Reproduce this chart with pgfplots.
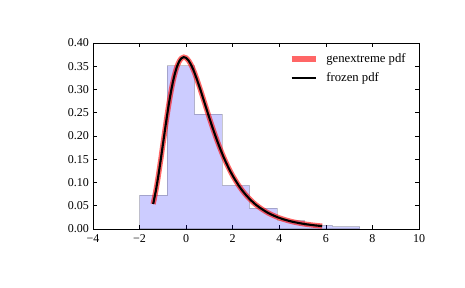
\documentclass[border=0pt]{standalone}
\usepackage{fontspec}
\setmainfont{Liberation Serif}
\usepackage{pgfplots}
\pgfplotsset{compat=1.18}
\begin{document}
\begin{tikzpicture}
\fontsize{12}{14}\selectfont
\path[use as bounding box] (-93pt,-59pt) rectangle (372pt,229pt);
\begin{axis}[
  at={(0,0)}, anchor=south west,
  scale only axis, width=326pt, height=186pt,
  xmin=-4, xmax=10, ymin=0, ymax=0.40,
  xtick={-4,-2,0,2,4,6,8,10},
  xticklabels={−4,−2,0,2,4,6,8,10},
  ytick={0,0.05,0.10,0.15,0.20,0.25,0.30,0.35,0.40},
  yticklabels={0.00,0.05,0.10,0.15,0.20,0.25,0.30,0.35,0.40},
  tick align=inside, major tick length=4pt,
  axis line style={line width=0.9pt},
  tick style={line width=0.7pt, black},
  ticklabel style={font=\fontsize{12}{14}\selectfont},
  xticklabel style={yshift=-1pt},
  legend style={draw=none, fill=none, at={(0.975,0.965)}, anchor=north east,
    font=\fontsize{12.7}{14}\selectfont, row sep=4pt},
  legend cell align=left,
  legend image code/.code={\draw[#1] (0pt,0pt) -- (24pt,0pt); \path (30pt,0pt);},
]
\addplot[draw=black, draw opacity=0.2, fill=blue, fill opacity=0.2, line width=1pt, forget plot]
 coordinates {(-2.0,0) (-2.0,0.073) (-0.82,0.073) (-0.82,0.351) (0.365,0.351) (0.365,0.247)
 (1.55,0.247) (1.55,0.094) (2.73,0.094) (2.73,0.045) (3.91,0.045) (3.91,0.018)
 (5.09,0.018) (5.09,0.008) (6.28,0.008) (6.28,0.005) (7.46,0.005) (7.46,0)} \closedcycle;
\addplot[draw=red, draw opacity=0.6, line width=5.2pt, smooth, tension=0.5] coordinates {
(-1.416,0.0537) (-1.3,0.0826) (-1.2,0.1125) (-1.1,0.1459) (-1.0,0.1811) (-0.9,0.2164)
(-0.8,0.2504) (-0.7,0.2814) (-0.6,0.3085) (-0.5,0.3309) (-0.4,0.3482) (-0.3,0.3602)
(-0.2,0.3673) (-0.1,0.3696) (0,0.3679) (0.1,0.3625) (0.2,0.3541) (0.3,0.3433) (0.4,0.3306)
(0.6,0.3014) (0.8,0.2699) (1.0,0.2384) (1.2,0.2083) (1.4,0.1807) (1.6,0.1558)
(1.8,0.1338) (2.0,0.1145) (2.3,0.0904) (2.6,0.0713) (3.0,0.0519) (3.5,0.0351)
(4.0,0.0239) (4.5,0.0164) (5.0,0.0114) (5.5,0.0080) (5.841,0.0063)};
\addlegendentry{genextreme pdf}
\addplot[draw=black, line width=2.1pt, smooth, tension=0.5] coordinates {
(-1.416,0.0537) (-1.3,0.0826) (-1.2,0.1125) (-1.1,0.1459) (-1.0,0.1811) (-0.9,0.2164)
(-0.8,0.2504) (-0.7,0.2814) (-0.6,0.3085) (-0.5,0.3309) (-0.4,0.3482) (-0.3,0.3602)
(-0.2,0.3673) (-0.1,0.3696) (0,0.3679) (0.1,0.3625) (0.2,0.3541) (0.3,0.3433) (0.4,0.3306)
(0.6,0.3014) (0.8,0.2699) (1.0,0.2384) (1.2,0.2083) (1.4,0.1807) (1.6,0.1558)
(1.8,0.1338) (2.0,0.1145) (2.3,0.0904) (2.6,0.0713) (3.0,0.0519) (3.5,0.0351)
(4.0,0.0239) (4.5,0.0164) (5.0,0.0114) (5.5,0.0080) (5.841,0.0063)};
\addlegendentry{frozen pdf}
\end{axis}
\end{tikzpicture}
\end{document}
